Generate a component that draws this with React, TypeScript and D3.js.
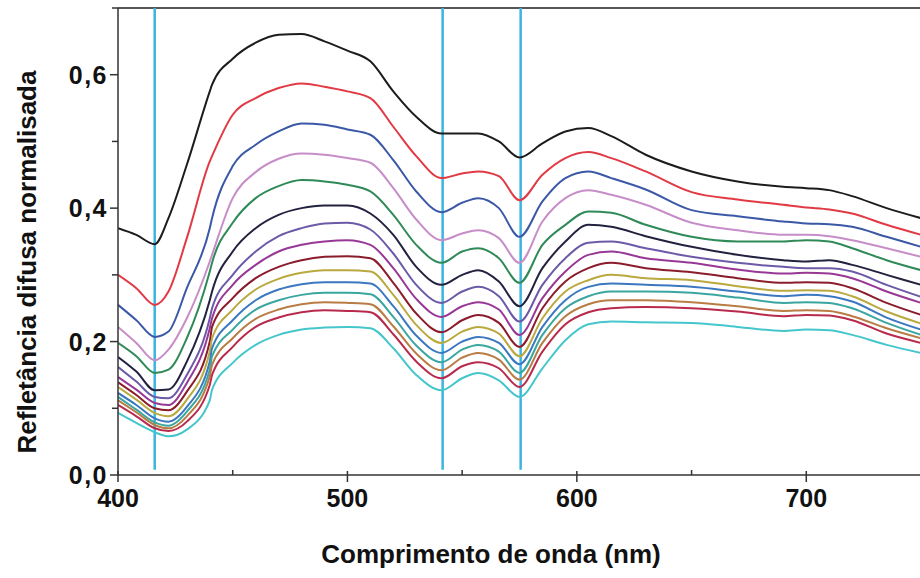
import React from "react";
import * as d3 from "d3";

// wavelength grid (nm) the values below were read at
const wavelengths = [
  400, 408, 416, 422, 430, 440, 441, 450, 460, 470, 480, 490, 500, 510, 520, 530, 541,
  550, 557, 566, 575, 585, 595, 605, 615, 630, 650, 670, 690, 700, 710, 720, 735, 750,
];

const s1 = [0.370, 0.360, 0.346, 0.385, 0.465, 0.575, 0.585, 0.624, 0.648, 0.660, 0.661, 0.650, 0.636, 0.620, 0.575, 0.537, 0.512, 0.512, 0.512, 0.500, 0.476, 0.497, 0.515, 0.520, 0.508, 0.480, 0.455, 0.440, 0.432, 0.430, 0.427, 0.418, 0.400, 0.385];
const s2 = [0.300, 0.280, 0.255, 0.275, 0.355, 0.470, 0.478, 0.540, 0.565, 0.580, 0.587, 0.582, 0.575, 0.565, 0.522, 0.478, 0.445, 0.452, 0.455, 0.448, 0.412, 0.450, 0.475, 0.484, 0.475, 0.455, 0.424, 0.413, 0.405, 0.401, 0.398, 0.392, 0.375, 0.360];
const s3 = [0.255, 0.232, 0.207, 0.215, 0.280, 0.370, 0.385, 0.463, 0.495, 0.515, 0.527, 0.525, 0.518, 0.510, 0.472, 0.425, 0.394, 0.408, 0.415, 0.400, 0.357, 0.410, 0.445, 0.455, 0.445, 0.428, 0.397, 0.388, 0.380, 0.377, 0.376, 0.372, 0.357, 0.342];
const s4 = [0.222, 0.198, 0.172, 0.188, 0.235, 0.320, 0.330, 0.415, 0.454, 0.474, 0.482, 0.480, 0.475, 0.468, 0.430, 0.383, 0.352, 0.362, 0.367, 0.355, 0.318, 0.380, 0.415, 0.427, 0.420, 0.405, 0.378, 0.367, 0.360, 0.360, 0.358, 0.352, 0.340, 0.327];
const s5 = [0.198, 0.178, 0.153, 0.158, 0.205, 0.305, 0.318, 0.378, 0.415, 0.433, 0.442, 0.440, 0.435, 0.425, 0.390, 0.345, 0.318, 0.335, 0.340, 0.325, 0.288, 0.345, 0.375, 0.395, 0.393, 0.375, 0.357, 0.350, 0.350, 0.352, 0.350, 0.340, 0.322, 0.307];
const s6 = [0.177, 0.155, 0.127, 0.128, 0.170, 0.262, 0.275, 0.335, 0.370, 0.390, 0.400, 0.404, 0.404, 0.392, 0.360, 0.312, 0.285, 0.300, 0.307, 0.290, 0.253, 0.310, 0.350, 0.375, 0.372, 0.358, 0.342, 0.330, 0.322, 0.320, 0.322, 0.315, 0.300, 0.285];
const s7 = [0.162, 0.140, 0.117, 0.115, 0.150, 0.235, 0.250, 0.300, 0.335, 0.358, 0.370, 0.377, 0.378, 0.368, 0.332, 0.285, 0.258, 0.275, 0.282, 0.268, 0.230, 0.285, 0.325, 0.348, 0.350, 0.340, 0.327, 0.318, 0.312, 0.310, 0.310, 0.305, 0.285, 0.267];
const s8 = [0.147, 0.128, 0.108, 0.105, 0.138, 0.220, 0.235, 0.285, 0.315, 0.335, 0.345, 0.350, 0.352, 0.345, 0.310, 0.264, 0.237, 0.253, 0.259, 0.248, 0.210, 0.265, 0.305, 0.330, 0.335, 0.325, 0.318, 0.308, 0.302, 0.303, 0.302, 0.295, 0.275, 0.258];
const s9 = [0.139, 0.120, 0.100, 0.097, 0.125, 0.200, 0.222, 0.265, 0.295, 0.312, 0.322, 0.327, 0.328, 0.325, 0.288, 0.242, 0.214, 0.232, 0.240, 0.228, 0.192, 0.250, 0.290, 0.310, 0.318, 0.310, 0.304, 0.295, 0.288, 0.289, 0.288, 0.280, 0.258, 0.240];
const s10 = [0.132, 0.113, 0.093, 0.088, 0.113, 0.185, 0.205, 0.248, 0.278, 0.294, 0.303, 0.307, 0.307, 0.305, 0.270, 0.225, 0.198, 0.215, 0.222, 0.212, 0.178, 0.235, 0.275, 0.292, 0.300, 0.295, 0.292, 0.283, 0.276, 0.277, 0.276, 0.268, 0.245, 0.227];
const s11 = [0.123, 0.105, 0.085, 0.080, 0.102, 0.170, 0.190, 0.232, 0.262, 0.278, 0.286, 0.289, 0.289, 0.287, 0.253, 0.209, 0.183, 0.200, 0.207, 0.198, 0.166, 0.222, 0.262, 0.282, 0.287, 0.285, 0.282, 0.275, 0.268, 0.270, 0.268, 0.260, 0.236, 0.218];
const s12 = [0.117, 0.098, 0.079, 0.074, 0.095, 0.158, 0.178, 0.218, 0.248, 0.262, 0.270, 0.273, 0.273, 0.271, 0.237, 0.194, 0.169, 0.188, 0.195, 0.185, 0.153, 0.210, 0.250, 0.268, 0.275, 0.275, 0.273, 0.266, 0.258, 0.259, 0.258, 0.250, 0.228, 0.210];
const s13 = [0.112, 0.094, 0.075, 0.070, 0.088, 0.148, 0.165, 0.205, 0.234, 0.248, 0.256, 0.259, 0.258, 0.256, 0.223, 0.182, 0.157, 0.176, 0.183, 0.173, 0.143, 0.198, 0.238, 0.256, 0.262, 0.262, 0.259, 0.253, 0.246, 0.247, 0.246, 0.238, 0.220, 0.205];
const s14 = [0.105, 0.088, 0.070, 0.066, 0.080, 0.135, 0.150, 0.192, 0.222, 0.236, 0.244, 0.247, 0.246, 0.244, 0.211, 0.170, 0.145, 0.163, 0.169, 0.160, 0.132, 0.185, 0.226, 0.244, 0.250, 0.252, 0.250, 0.245, 0.238, 0.240, 0.239, 0.232, 0.212, 0.198];
const s15 = [0.093, 0.078, 0.064, 0.058, 0.068, 0.112, 0.128, 0.168, 0.195, 0.210, 0.218, 0.221, 0.222, 0.220, 0.190, 0.150, 0.127, 0.145, 0.153, 0.142, 0.117, 0.160, 0.202, 0.226, 0.230, 0.229, 0.228, 0.222, 0.216, 0.218, 0.217, 0.210, 0.195, 0.183];

const seriesValues = [s1, s2, s3, s4, s5, s6, s7, s8, s9, s10, s11, s12, s13, s14, s15];
const seriesColors = [
  "#1c1c1c", "#e23a44", "#3a58a6", "#c78dc8", "#2f8a58", "#222240", "#6c5aa8", "#983896",
  "#8a1c2c", "#b9a93e", "#3b78c0", "#3aa6a0", "#b87c44", "#b82a4c", "#45c6cc",
];

// vertical marker lines (nm)
const markers = [416, 541.5, 575.5];

const xTicks = [400, 450, 500, 550, 600, 650, 700, 750];
const xLabels = [400, 500, 600, 700];
const yTicks = [0, 0.1, 0.2, 0.3, 0.4, 0.5, 0.6, 0.7];
const yLabels = [0, 0.2, 0.4, 0.6];

const xTitle = "Comprimento de onda (nm)";
const yTitle = "Refletância difusa normalisada";

const width = 920;
const height = 578;
const margin = { top: 8, right: 0, bottom: 103, left: 118 };

export default function App() {
  const x = d3.scaleLinear().domain([400, 750]).range([margin.left, 921]);
  const y = d3.scaleLinear().domain([0, 0.7]).range([height - margin.bottom, margin.top]);

  const line = d3
    .line<[number, number]>()
    .x((d) => x(d[0]))
    .y((d) => y(d[1]))
    .curve(d3.curveMonotoneX);

  const fmt = (v: number) => v.toFixed(1).replace(".", ",");
  const font = "'Liberation Sans', Arial, sans-serif";
  const y0 = y(0);

  return (
    <svg
      width={width}
      height={height}
      viewBox={`0 0 ${width} ${height}`}
      style={{ position: "absolute", left: 0, top: 0, background: "#fff" }}
    >
      <defs>
        <clipPath id="plot">
          <rect x={margin.left} y={margin.top} width={width - margin.left} height={y0 - margin.top} />
        </clipPath>
      </defs>

      {/* top frame */}
      <line x1={margin.left} x2={width} y1={y(0.7)} y2={y(0.7)} stroke="#555" strokeWidth={2} />

      {/* marker lines */}
      {markers.map((m) => (
        <line key={m} x1={x(m)} x2={x(m)} y1={y(0.7)} y2={y(0.008)} stroke="#3cb4e0" strokeWidth={2.5} />
      ))}

      {/* spectra */}
      <g clipPath="url(#plot)" fill="none">
        {seriesValues.map((vals, i) => (
          <path
            key={i}
            d={line(wavelengths.map((w, j) => [w, vals[j]] as [number, number])) ?? ""}
            stroke={seriesColors[i]}
            strokeWidth={2}
          />
        ))}
      </g>

      {/* axes */}
      <g stroke="#333" strokeWidth={1.5}>
        <line x1={margin.left} x2={width} y1={y0} y2={y0} />
        <line x1={margin.left} x2={margin.left} y1={y0} y2={margin.top} />
        {xTicks.map((t) => {
          const major = xLabels.includes(t);
          return <line key={t} x1={x(t)} x2={x(t)} y1={y0 - (major ? 4 : 5)} y2={y0 + (major ? 7 : 0)} />;
        })}
        {yTicks.map((t) => (
          <line key={t} x1={margin.left - (yLabels.includes(t) ? 8 : 6)} x2={margin.left} y1={y(t)} y2={y(t)} />
        ))}
      </g>

      <g fontFamily={font} fontWeight="bold" fill="#111">
        {xLabels.map((t) => (
          <text key={t} x={x(t)} y={y0 + 32} textAnchor="middle" fontSize={25}>
            {t}
          </text>
        ))}
        {yLabels.map((t) => (
          <text key={t} x={margin.left - 10} y={y(t) + 9} textAnchor="end" fontSize={25} letterSpacing={1.5}>
            {fmt(t)}
          </text>
        ))}
        <text x={491} y={563} textAnchor="middle" fontSize={26}>
          {xTitle}
        </text>
        <text transform={`translate(36, ${262}) rotate(-90)`} textAnchor="middle" fontSize={26}>
          {yTitle}
        </text>
      </g>
    </svg>
  );
}
